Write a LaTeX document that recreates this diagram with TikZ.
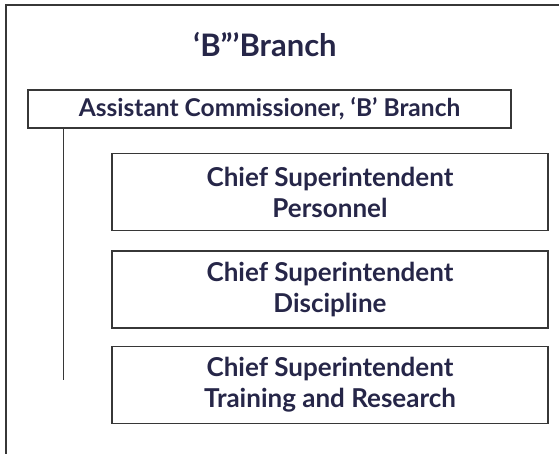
\documentclass[tikz,border=0pt]{standalone}
\usepackage{fontspec}
\setmainfont{Lato}
\definecolor{ink}{RGB}{38,38,72}
\definecolor{rule}{RGB}{55,55,55}

\tikzset{
  post/.style={draw=rule,line width=1.4pt,text=ink,align=center,inner sep=0pt},
}

\begin{document}
\begin{tikzpicture}[x=1pt,y=-1pt,font=\bfseries]
  \useasboundingbox (0,0) rectangle (559,454);
  % frame round the chart
  \draw[rule,line width=1.6pt] (559,5) -- (6,5) -- (6,454);
  \node[text=ink,font=\fontsize{31}{34}\selectfont\bfseries] (title) at (265,45) {‘B”’Branch};
  \node[post,minimum width=483pt,minimum height=38pt,font=\fontsize{24.5}{27}\selectfont\bfseries] (ac) at (269.5,109) {Assistant Commissioner, ‘B’ Branch};
  \foreach \y/\name/\txt in {192/personnel/{Chief Superintendent\\Personnel},
                             289.5/discipline/{Chief Superintendent\\Discipline},
                             385/training/{Chief Superintendent\\Training and Research}}{
    \node[post,minimum width=436pt,minimum height=77pt,font=\fontsize{26}{31}\selectfont\bfseries] (\name) at (330,\y) {\txt};
  }
  \coordinate (tail) at (63,380);
  \draw[rule,line width=0.8pt] (ac.south -| tail) -- (tail);
\end{tikzpicture}
\end{document}
